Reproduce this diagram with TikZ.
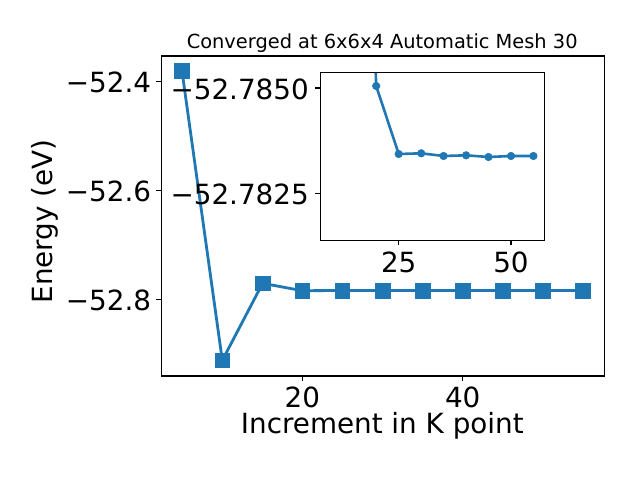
\documentclass[tikz,border=0pt]{standalone}
\usepackage{fontspec}
\setmainfont{DejaVu Sans}
\definecolor{cz}{HTML}{1F77B4}
\begin{document}
\begin{tikzpicture}[x=1pt,y=-1pt,
  ticklab/.style={inner sep=0pt, font=\fontsize{27.8}{30}\selectfont},
  titlelab/.style={inner sep=0pt, font=\fontsize{19.4}{22}\selectfont},
  frame/.style={draw=black, line width=1.1pt},
  tickmark/.style={draw=black, line width=1.1pt},
  dataline/.style={draw=cz, line width=2.8pt, line join=round},
  sq/.style={fill=cz, draw=cz, line width=0.6pt, minimum size=14.6pt, inner sep=0pt, rectangle},
  dot/.style={fill=cz, draw=cz, line width=0.5pt, minimum size=7.6pt, inner sep=0pt, circle}]
\useasboundingbox[fill=white] (0,0) rectangle (640,480);

% ---------- main axes ----------
\coordinate (p5) at (182.0,71.0);
\coordinate (p10) at (222.3,360.4);
\coordinate (p15) at (262.6,283.3);
\coordinate (p20) at (302.3,290.7);
\coordinate (p25) at (342.4,290.5);
\coordinate (p30) at (382.5,290.5);
\coordinate (p35) at (422.6,290.5);
\coordinate (p40) at (462.7,290.5);
\coordinate (p45) at (502.8,290.5);
\coordinate (p50) at (542.9,290.5);
\coordinate (p55) at (583.0,290.5);

\draw[frame] (161.3,56) rectangle (604.3,376);

% y ticks
\foreach \yy/\lab in {81.5/−52.4, 190.4/−52.6, 299.3/−52.8}{
  \draw[tickmark] (161.3,\yy) -- (156.4,\yy);
  \node[ticklab, anchor=base east] at (151.3,\yy+11) {\lab};
}
% x ticks
\foreach \xx/\lab in {302.3/20, 462.7/40}{
  \draw[tickmark] (\xx,376) -- (\xx,380.9);
  \node[ticklab, anchor=base] at (\xx,407.3) {\lab};
}

\draw[dataline] (p5) -- (p10) -- (p15) -- (p20) -- (p25) -- (p30) -- (p35) -- (p40) -- (p45) -- (p50) -- (p55);
\foreach \p in {p5,p10,p15,p20,p25,p30,p35,p40,p45,p50,p55}{
  \node[sq] (m\p) at (\p) {};
}

% labels
\node[titlelab, anchor=base] (title) at (382.2,48.3) {Converged at 6x6x4 Automatic Mesh 30};
\node[ticklab, anchor=base] (xlab) at (382.3,433.3) {Increment in K point};
\node[ticklab, anchor=base, rotate=90] (ylab) at (52.5,221.5) {Energy (eV)};

% ---------- inset axes ----------
\fill[white] (320.3,72.3) rectangle (544.3,240.3);
\coordinate (q15) at (375.3,60);
\coordinate (q20) at (376.2,86.0);
\coordinate (q25) at (398.7,154.0);
\coordinate (q30) at (421.2,153.3);
\coordinate (q35) at (443.6,156.0);
\coordinate (q40) at (466.1,155.3);
\coordinate (q45) at (488.5,157.0);
\coordinate (q50) at (511.0,156.0);
\coordinate (q55) at (533.4,156.0);
\begin{scope}
  \clip (320.3,72.3) rectangle (544.3,240.3);
  \draw[dataline, line width=2.6pt] (q15) -- (q20) -- (q25) -- (q30) -- (q35) -- (q40) -- (q45) -- (q50) -- (q55);
  \foreach \q in {q20,q25,q30,q35,q40,q45,q50,q55}{
    \node[dot] (n\q) at (\q) {};
  }
\end{scope}
\draw[frame] (320.3,72.3) rectangle (544.3,240.3);
\foreach \yy/\lab in {88/−52.7850, 193.3/−52.7825}{
  \draw[tickmark] (320.3,\yy) -- (315.4,\yy);
  \node[ticklab, anchor=base east] at (309,\yy+11) {\lab};
}
\foreach \xx/\lab in {398.7/25, 511.0/50}{
  \draw[tickmark] (\xx,240.3) -- (\xx,245.2);
  \node[ticklab, anchor=base] at (\xx,272.7) {\lab};
}
\end{tikzpicture}
\end{document}
